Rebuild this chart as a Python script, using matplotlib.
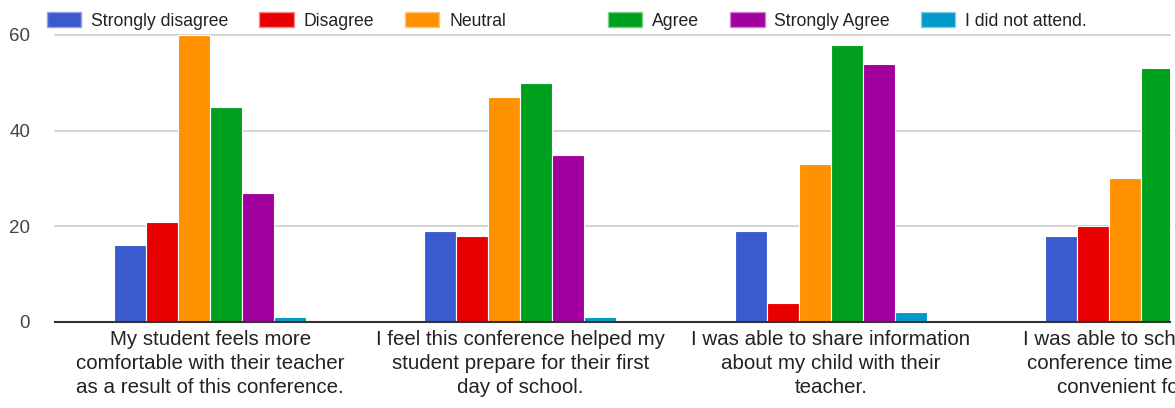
import matplotlib
matplotlib.use("Agg")
import matplotlib.pyplot as plt
import numpy as np
from matplotlib.patches import Patch

plt.rcParams['font.family'] = ['Liberation Sans', 'DejaVu Sans']

categories = [
    "My student feels more\ncomfortable with their teacher\nas a result of this conference.",
    "I feel this conference helped my\nstudent prepare for their first\nday of school.",
    "I was able to share information\nabout my child with their\nteacher.",
    "I was able to schedule my\nconference time that was\nconvenient for me.",
]
series_names = ["Strongly disagree", "Disagree", "Neutral", "Agree", "Strongly Agree", "I did not attend."]
strongly_disagree = [16, 19, 19, 18]
disagree = [21, 18, 4, 20]
neutral = [60, 47, 33, 30]
agree = [45, 50, 58, 53]
strongly_agree = [27, 35, 54, 40]
did_not_attend = [1, 1, 2, 1]
series_values = [strongly_disagree, disagree, neutral, agree, strongly_agree, did_not_attend]
colors = ['#3a5bd0', '#e80000', '#ff9200', '#00a01f', '#a1009f', '#0099c9']
edge_light = ['#8fa3e6', '#f58a8a', '#ffc680', '#80cf8f', '#d080cf', '#80cce4']

fig = plt.figure(figsize=(11.75, 4.08), dpi=100)
ax = fig.add_axes([55/1175, (408-322)/408, (1170-55)/1175, (322-35)/408])

x = np.arange(len(categories))
bw = 0.1032
n = len(series_names)
for i, (vals, c) in enumerate(zip(series_values, colors)):
    offs = (i - (n - 1) / 2) * bw
    ax.bar(x + offs, vals, width=bw, color=c, edgecolor='white', linewidth=0.8, zorder=3)

ax.set_xlim(-0.5, (1170 - 211) / 310)
ax.set_ylim(0, 60)
ax.set_yticks([0, 20, 40, 60])
ax.set_yticklabels(['0', '20', '40', '60'], fontsize=13.5, color='#444444')
ax.set_xticks(x)
ax.set_xticklabels(categories, fontsize=14.8, color='#222222', linespacing=1.33)
ax.tick_params(axis='both', length=0)
ax.tick_params(axis='y', pad=18)
ax.tick_params(axis='x', pad=6)
for s in ['top', 'right', 'left']:
    ax.spines[s].set_visible(False)
ax.spines['bottom'].set_color('#333333')
ax.spines['bottom'].set_linewidth(1.5)
ax.spines['bottom'].set_zorder(4)
ax.yaxis.grid(True, color='#cccccc', linewidth=1.2, zorder=0)
ax.set_axisbelow(True)
for gl in ax.get_ygridlines():
    gl.set_clip_on(False)

handles = [Patch(facecolor=c, edgecolor=e, linewidth=1) for c, e in zip(colors, edge_light)]
common = dict(frameon=False, fontsize=12.7, handlelength=1.95, handleheight=0.95,
              handletextpad=0.55, columnspacing=1.76, borderaxespad=0, borderpad=0,
              labelcolor='#222222')
leg1 = fig.legend(handles[:3], series_names[:3], ncol=3, loc='center left',
                  bbox_to_anchor=(47/1175, 1 - 21/408), **common)
leg2 = fig.legend(handles[3:], series_names[3:], ncol=3, loc='center left',
                  bbox_to_anchor=(608/1175, 1 - 21/408), **common)

fig.savefig('out.png', dpi=100)
